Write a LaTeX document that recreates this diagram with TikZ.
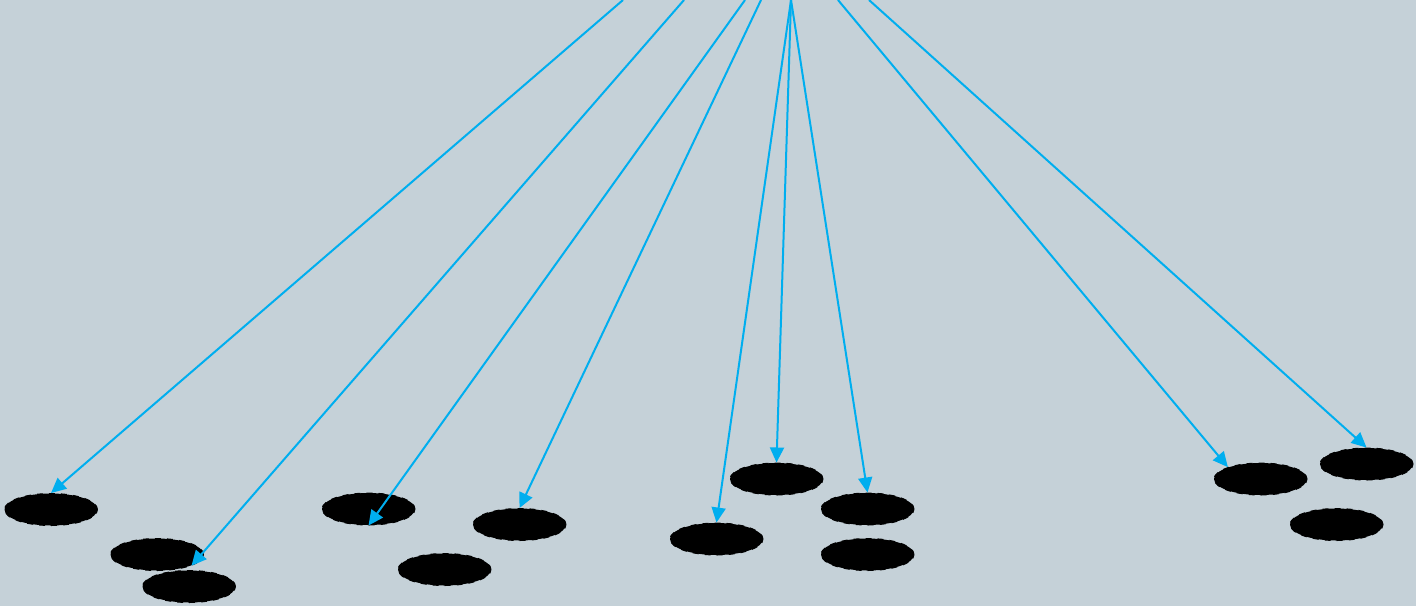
\documentclass[tikz,border=0pt]{standalone}
\usetikzlibrary{shapes.geometric,arrows.meta}
\definecolor{bgcol}{RGB}{197,209,216}
\definecolor{edgecol}{RGB}{0,174,239}
\tikzset{
  blob/.style={ellipse, fill=black, draw=black, dashed, line width=0.5pt,
    minimum width=46.5pt, minimum height=16pt, inner sep=0pt},
  link/.style={draw=edgecol, line width=1pt,
    -{Triangle[length=7.5pt,width=7pt]}}
}
\begin{document}
\begin{tikzpicture}[x=0.5pt,y=-0.5pt]
  \clip (0,0) rectangle (1416,606);
  \fill[bgcol] (0,0) rectangle (1416,606);

  % leaf nodes
  \node[blob] (A) at (51,509.5) {};
  \node[blob] (B) at (157,554.5) {};
  \node[blob] (C) at (189,586.5) {};
  \node[blob] (D) at (368.5,509) {};
  \node[blob] (K) at (444.5,569.5) {};
  \node[blob] (E) at (519.5,524.5) {};
  \node[blob] (F) at (716.5,539) {};
  \node[blob] (G) at (776.5,479) {};
  \node[blob] (H) at (867.5,509) {};
  \node[blob] (L) at (867.5,554.5) {};
  \node[blob] (I) at (1260.5,479) {};
  \node[blob] (J) at (1366.5,464) {};
  \node[blob] (M) at (1336.5,524.5) {};

  % edges entering from above
  \coordinate (s1) at (623,0);
  \coordinate (s2) at (684,0);
  \coordinate (s3) at (745,0);
  \coordinate (s4) at (761,0);
  \coordinate (s5) at (791,0);
  \coordinate (s8) at (838,0);
  \coordinate (s9) at (869,0);

  \draw[link] (s1) -- (A.north);
  \draw[link] (s2) -- (B.-18);
  \draw[link] (s3) -- (D.south);
  \draw[link] (s4) -- (E.north);
  \draw[link] (s5) -- (F.north);
  \draw[link] (s5) -- (G.north);
  \draw[link] (s5) -- (H.north);
  \draw[link] (s8) -- (I.160);
  \draw[link] (s9) -- (J.north);
\end{tikzpicture}
\end{document}
